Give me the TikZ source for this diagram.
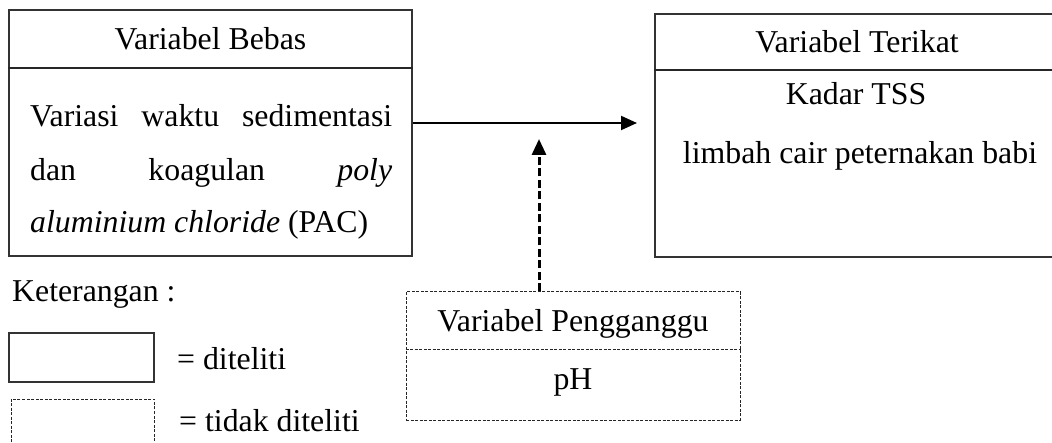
\documentclass[tikz,border=0pt]{standalone}
\usepackage{fontspec}
\setmainfont{Liberation Serif}
\usetikzlibrary{arrows.meta}
\begin{document}
\begin{tikzpicture}[x=1pt,y=-1pt,
  every node/.style={font=\fontsize{31.8}{40}\selectfont},
  txt/.style={inner sep=0pt, anchor=base},
  solidbox/.style={draw=black!80, line width=1.3pt, rectangle, inner sep=0pt},
  dashbox/.style={draw=black!85, line width=1pt, dash pattern=on 3pt off 1.5pt, rectangle, inner sep=0pt},
  divider/.style={draw=black!85, line width=1.3pt},
  dashdivider/.style={draw=black!85, line width=1pt, dash pattern=on 3pt off 1.5pt},
  flow/.style={line width=2pt, -{Triangle[length=16pt,width=14pt]}},
  influence/.style={line width=3pt, dash pattern=on 8pt off 3.5pt, -{Triangle[length=16pt,width=14pt]}}]
\useasboundingbox (0,0) rectangle (1052,443);
\clip (0,0) rectangle (1052,443);

% independent variable
\node[solidbox, minimum width=403pt, minimum height=246pt] (bebas) at (210.5,133) {};
\draw[divider] (bebas.west |- 0,68) -- (bebas.east |- 0,68);
\node[txt] (bebasT) at (210.5,50) {Variabel Bebas};
\node[txt, anchor=base west] (b1) at (30,127) {\makebox[362pt][s]{Variasi waktu sedimentasi}};
\node[txt, anchor=base west] (b2) at (30,181) {\makebox[362pt][s]{dan koagulan \textit{poly}}};
\node[txt, anchor=base west] (b3) at (30,233) {\textit{aluminium chloride} (PAC)};

% dependent variable (runs past the right border)
\node[solidbox, minimum width=410pt, minimum height=243pt] (terikat) at (860,135.5) {};
\draw[divider] (terikat.west |- 0,70) -- (terikat.east |- 0,70);
\node[txt] (terikatT) at (857,53) {Variabel Terikat};
\node[txt] (t1) at (856,105) {Kadar TSS};
\node[txt] (t2) at (860,164) {limbah cair peternakan babi};

% confounding variable
\node[dashbox, minimum width=334pt, minimum height=128pt] (ganggu) at (573,356) {};
\draw[dashdivider] (ganggu.west |- 0,350) -- (ganggu.east |- 0,350);
\node[txt] (gangguT) at (573,332) {Variabel Pengganggu};
\node[txt] (g1) at (573,390) {pH};

% connectors
\coordinate (hit) at (637,123);
\coordinate (meet) at (539,139);
\draw[flow] (bebas.east |- hit) -- (hit);
\draw[influence] (ganggu.north -| meet) -- (meet);

% legend
\node[txt, anchor=base west] (ket) at (12,302) {Keterangan :};
\node[solidbox, minimum width=145pt, minimum height=49pt] (legS) at (81.5,357.5) {};
\node[txt, anchor=base west] (legST) at (177,370) {= diteliti};
\node[dashbox, minimum width=143pt, minimum height=70pt] (legD) at (82.5,434) {};
\node[txt, anchor=base west] (legDT) at (179,431) {= tidak diteliti};
\end{tikzpicture}
\end{document}
